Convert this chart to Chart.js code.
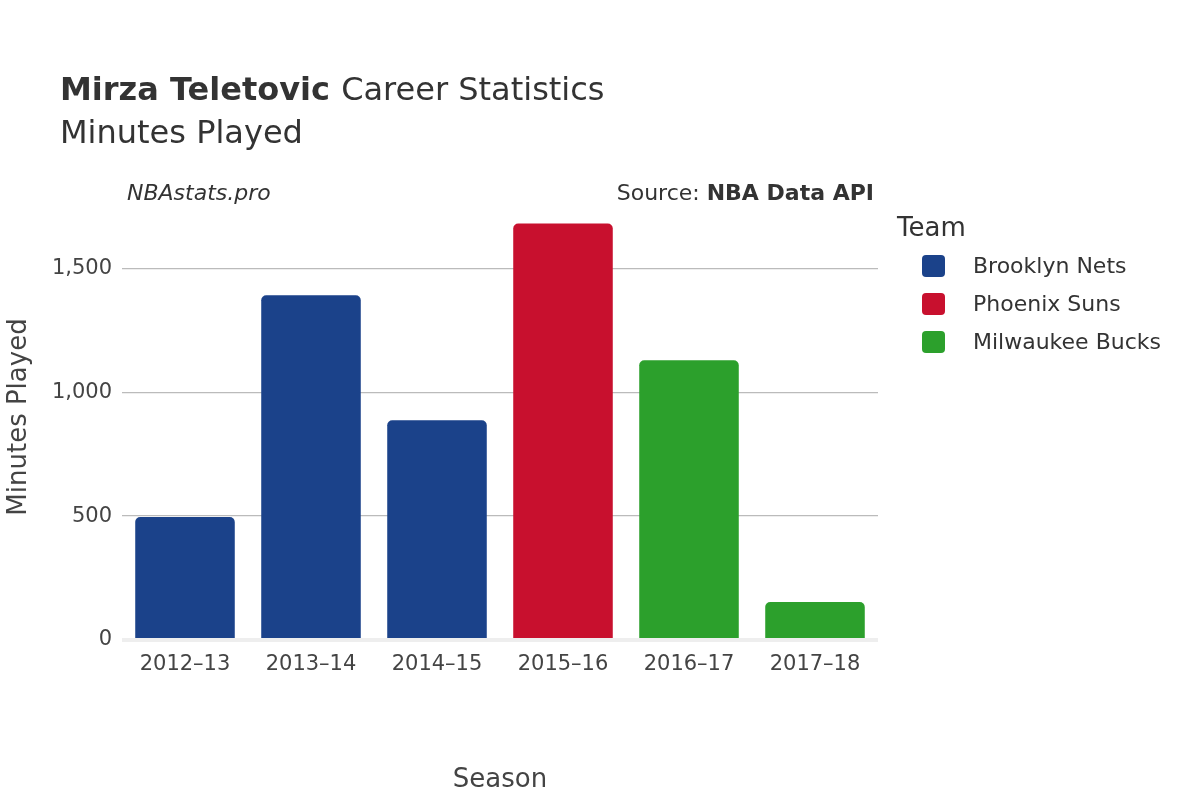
<!DOCTYPE html>
<html>
<head>
<meta charset="utf-8">
<script src="https://cdn.jsdelivr.net/npm/chart.js@4.4.0/dist/chart.umd.min.js"></script>
<style>
  html, body { margin: 0; padding: 0; background: #fff; }
  #wrap { width: 1200px; height: 800px; }
</style>
</head>
<body>
<div id="wrap"><canvas id="grafico" width="1200" height="800"></canvas></div>
<script>
const seasons = ['2012–13', '2013–14', '2014–15', '2015–16', '2016–17', '2017–18'];
const teams = ['Brooklyn Nets', 'Phoenix Suns', 'Milwaukee Bucks'];
const teamColors = ['#1b428a', '#c8102e', '#2ca02c'];
const netsMinutes = [496, 1391, 887, null, null, null];
const sunsMinutes = [null, null, null, 1681, null, null];
const bucksMinutes = [null, null, null, null, 1129, 153];
const yTicks = [0, 500, 1000, 1500];

const FONT = '"DejaVu Sans", sans-serif';

// titulos, fuente y leyenda dibujados a mano
const textos = {
  id: 'textos',
  afterDraw(chart) {
    const ctx = chart.ctx;
    ctx.save();
    ctx.fillStyle = '#333';
    ctx.textBaseline = 'alphabetic';
    ctx.textAlign = 'left';
    ctx.font = 'bold 32px ' + FONT;
    ctx.fillText('Mirza Teletovic', 60, 100);
    const w = ctx.measureText('Mirza Teletovic ').width;
    ctx.font = '32px ' + FONT;
    ctx.fillText('Career Statistics', 60 + w, 100);
    ctx.fillText('Minutes Played', 60, 143);

    ctx.font = 'italic 22px ' + FONT;
    ctx.fillText('NBAstats.pro', 127, 200);
    ctx.textAlign = 'right';
    ctx.font = 'bold 22px ' + FONT;
    ctx.fillText('NBA Data API', 874, 200);
    const bw = ctx.measureText('NBA Data API').width;
    ctx.font = '22px ' + FONT;
    ctx.fillText('Source: ', 874 - bw, 200);

    ctx.textAlign = 'left';
    ctx.font = '26px ' + FONT;
    ctx.fillText('Team', 897, 236);
    ctx.font = '22px ' + FONT;
    chart.data.datasets.forEach((ds, i) => {
      const y = 266 + i * 38;
      ctx.fillStyle = ds.backgroundColor;
      ctx.beginPath();
      ctx.roundRect(922, y - 11, 23, 22, 4);
      ctx.fill();
      ctx.fillStyle = '#333';
      ctx.textBaseline = 'middle';
      ctx.fillText(ds.label, 973, y + 1);
    });
    ctx.restore();
  }
};

const ctx = document.getElementById('grafico').getContext('2d');
new Chart(ctx, {
  type: 'bar',
  data: {
    labels: seasons,
    datasets: [
      { label: teams[0], data: netsMinutes, backgroundColor: teamColors[0] },
      { label: teams[1], data: sunsMinutes, backgroundColor: teamColors[1] },
      { label: teams[2], data: bucksMinutes, backgroundColor: teamColors[2] }
    ].map(d => Object.assign(d, { borderRadius: 5, borderSkipped: 'bottom', barPercentage: 0.79, categoryPercentage: 1 }))
  },
  options: {
    responsive: false,
    animation: false,
    layout: { padding: { top: 194, right: 322, left: 0, bottom: 0 } },
    plugins: { legend: { display: false }, tooltip: { enabled: false } },
    scales: {
      x: {
        stacked: true,
        grid: { display: false },
        border: { display: false },
        ticks: { color: '#444', font: { family: FONT, size: 21 }, padding: 4 },
        title: { display: true, text: 'Season', color: '#444', font: { family: FONT, size: 26 }, padding: { top: 22 } },
        afterFit: s => { s.height = 160; }
      },
      y: {
        stacked: true,
        min: 0, max: 1800,
        afterBuildTicks: s => { s.ticks = yTicks.map(v => ({ value: v })); },
        grid: {
          color: c => c.tick.value === 0 ? '#eeeeee' : '#bbbbbb',
          lineWidth: c => c.tick.value === 0 ? 4 : 1.3,
          drawTicks: false
        },
        border: { display: false },
        ticks: { color: '#444', font: { family: FONT, size: 21 }, padding: 10 },
        title: { display: true, text: 'Minutes Played', color: '#444', font: { family: FONT, size: 26 }, padding: { bottom: 6 } },
        afterFit: s => { s.width = 122; }
      }
    }
  },
  plugins: [textos]
});
</script>
</body>
</html>
